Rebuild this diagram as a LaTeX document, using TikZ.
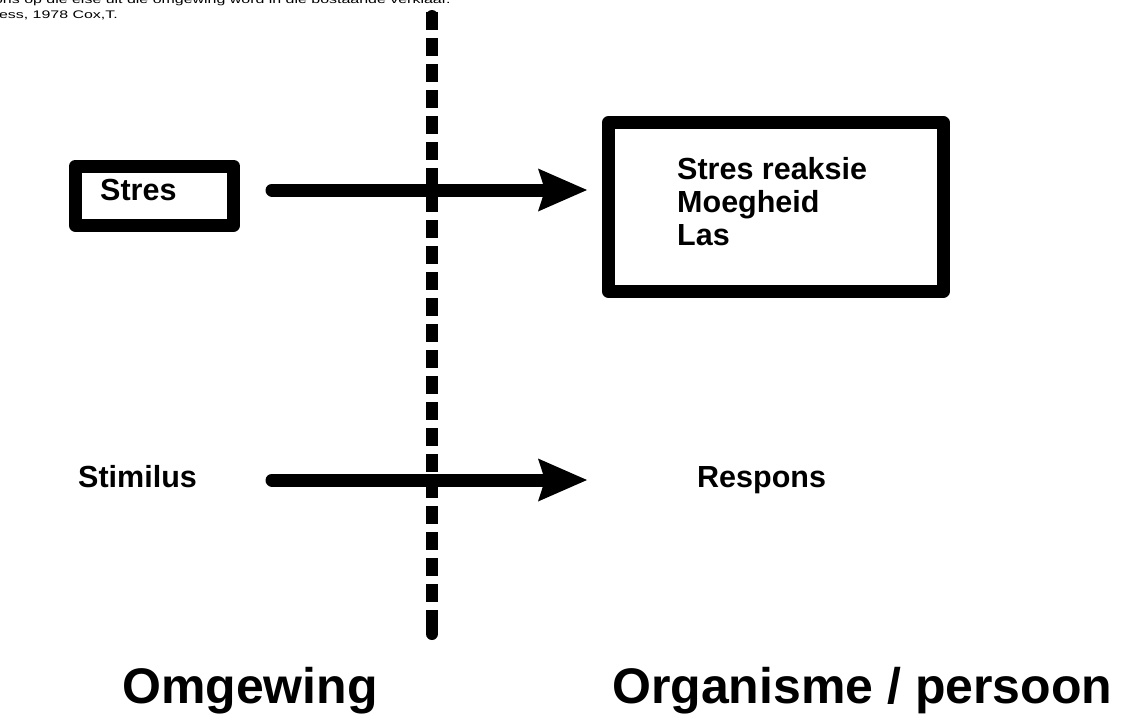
\documentclass[tikz,border=0pt]{standalone}
\usepackage{fontspec}
\setmainfont{Liberation Sans}
\usetikzlibrary{calc}
\tikzset{
  thickbox/.style={draw=black, line width=13pt, line join=round, fill=white, inner sep=0pt},
  lbl/.style={anchor=base west, inner sep=0pt, font=\bfseries\fontsize{30.5}{33}\selectfont},
  biglbl/.style={anchor=base west, inner sep=0pt, font=\bfseries\fontsize{50}{55}\selectfont},
  small/.style={anchor=base east, inner sep=0pt, font=\fontsize{11}{13}\selectfont},
  shaft/.style={line width=13pt, line cap=round},
  divider/.style={line width=12pt, dash pattern=on 18pt off 8pt},
  dividerend/.style={line width=12pt, line cap=round}
}
\begin{document}
\begin{tikzpicture}[x=1pt,y=-1pt]
\useasboundingbox (0,0) rectangle (1129,715);
% caption (clipped at the top and left)
\node[small] (cap1) at (451,3) {\scalebox{1.45}[1]{Teoretiese benaderings vir die respons op die eise uit die omgewing word in die bostaande verklaar.}};
\node[small] (cap2) at (118,18) {\scalebox{1.45}[1]{Stress, 1978 Cox,T.}};
% divider
\coordinate (dtop) at (432,12);
\coordinate (dbot) at (432,628);
\draw[divider] (dtop) -- (dbot);
\draw[dividerend] ($(dtop)+(0,4)$) -- ($(dtop)+(0,12)$);
\draw[dividerend] ($(dbot)+(0,-6)$) -- ($(dbot)+(0,6)$);
% boxes
\node[thickbox, minimum width=158pt, minimum height=59.5pt] (stresbox) at (154.5,195.75) {};
\node[lbl] (stres) at (100,200) {Stres};
\node[thickbox, minimum width=334.5pt, minimum height=169pt] (respbox) at (775.75,207) {};
\node[lbl] (r1) at (677,179) {Stres reaksie};
\node[lbl] (r2) at (677,212) {Moegheid};
\node[lbl] (r3) at (677,245) {Las};
% arrows
\coordinate (a1s) at (272,190);
\coordinate (a1e) at (587,190);
\draw[shaft] (a1s) -- ($(a1e)+(-44,0)$);
\fill (a1e) -- ++(-49,-21.5) -- ++(7,21.5) -- ++(-7,21.5) -- cycle;
\coordinate (a2s) at (272,480);
\coordinate (a2e) at (587,480);
\draw[shaft] (a2s) -- ($(a2e)+(-44,0)$);
\fill (a2e) -- ++(-49,-21.5) -- ++(7,21.5) -- ++(-7,21.5) -- cycle;
% labels
\node[lbl] (stim) at (78,487) {Stimilus};
\node[lbl] (resp) at (697,487) {Respons};
\node[biglbl] (omg) at (122,703) {Omgewing};
\node[biglbl] (org) at (612,703) {Organisme / persoon};
\end{tikzpicture}
\end{document}
